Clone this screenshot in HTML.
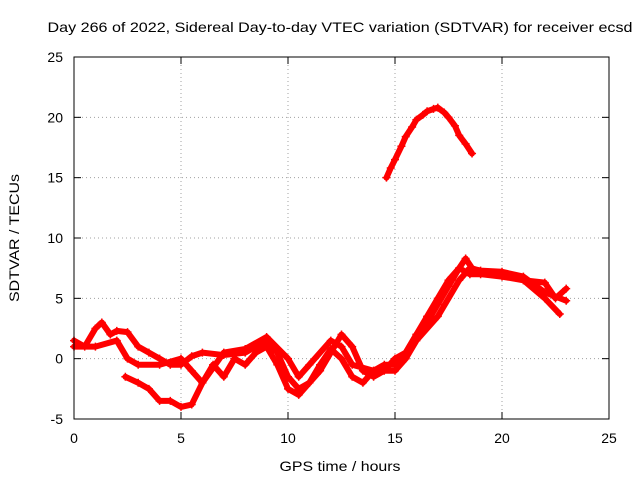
<!DOCTYPE html>
<html><head><meta charset="utf-8"><style>
body{margin:0;background:#fff;}
svg{display:block;font-family:"Liberation Sans",sans-serif;font-size:14px;}
</style></head><body>
<svg id="chart" width="640" height="480">
<text x="340" y="32" text-anchor="middle" textLength="585" lengthAdjust="spacingAndGlyphs">Day 266 of 2022, Sidereal Day-to-day VTEC variation (SDTVAR) for receiver ecsd</text>
<text x="340" y="471" text-anchor="middle" textLength="121" lengthAdjust="spacingAndGlyphs">GPS time / hours</text>
<text transform="translate(19,238) rotate(-90)" text-anchor="middle" textLength="128" lengthAdjust="spacingAndGlyphs">SDTVAR / TECUs</text>
<g id="grid"></g><g id="ticks"></g><g id="series"></g>
<rect x="74" y="57" width="535" height="362" fill="none" stroke="#000" stroke-width="1"/>
</svg>
<script>
const xTicks=[0,5,10,15,20,25];
const yTicks=[-5,0,5,10,15,20,25];
const arcX=[14.6,14.8,15,15.3,15.5,15.8,16,16.3,16.5,16.8,17,17.3,17.5,17.8,18,18.3,18.6];
const arcY=[15,15.8,16.5,17.6,18.4,19.2,19.8,20.2,20.5,20.7,20.8,20.4,20,19.3,18.5,17.8,17];
const t1X=[0,0.5,1,1.3,1.7,2,2.5,3,3.5,4,4.5,5,5.5,6,7,8,9,9.5,10,10.5,11,11.5,12,12.5,13,13.5,14,14.5,15,15.5,16,16.5,17,17.5,18,18.3,18.6,19,20,21,22,22.5,23];
const t1Y=[1.5,1,2.5,3,2,2.3,2.2,1,0.5,0,-0.5,-0.5,0.2,0.5,0.3,0.5,1.5,0.5,-1.5,-2.5,-2,-1,0.5,2,1,-1,-1.5,-1,0,0.5,2,3.5,5,6.5,7.5,8.3,7.5,7.2,7,6.5,6.3,5,5.8];
const t2X=[2.4,3,3.5,4,4.5,5,5.5,6,6.5,7,7.5,8,8.5,9,9.5,10,10.5,11,11.5,12,12.5,13,13.5,14,14.5,15,15.5,16,16.5,17,17.5,18,18.5,19,20,21,22,22.7];
const t2Y=[-1.5,-2,-2.5,-3.5,-3.5,-4,-3.8,-2,-0.5,-1.5,0,-0.5,0.5,1,-0.5,-2.5,-3,-2,-0.5,0.8,0,-1.5,-2,-1,-0.5,-0.5,0.5,2,3,4.5,6,7.5,7,7,6.8,6.5,5,3.7];
const t3X=[0,1,2,2.5,3,4,5,5.5,6,7,8,9,10,10.5,11,12,12.5,13,14,15,15.5,16,17,18,18.5,19,20,21,22,23];
const t3Y=[1,1,1.5,0,-0.5,-0.5,0,-1,-2,0.5,0.8,1.8,0,-1.5,-0.5,1.5,1,-0.5,-1,-1,0,1.5,3.5,6.5,7.5,7.3,7.2,6.8,5.5,4.8];
const NS="http://www.w3.org/2000/svg";
const sx=v=>74+v*(535/25), sy=v=>419-(v+5)*(362/30);
const grid=document.getElementById('grid'),ticks=document.getElementById('ticks'),ser=document.getElementById('series');
function mk(tag,attrs,parent){const e=document.createElementNS(NS,tag);for(const k in attrs)e.setAttribute(k,attrs[k]);parent.appendChild(e);return e;}
xTicks.forEach(v=>{
 if(v>0&&v<25){const g=mk('line',{x1:sx(v),x2:sx(v),y1:57,y2:419,stroke:'#a0a0a0','stroke-dasharray':'1,3'},grid);
 
 }
 const t=mk('text',{x:sx(v),y:443,'text-anchor':'middle'},ticks);t.textContent=v;
 
 
 mk('line',{x1:sx(v),x2:sx(v),y1:419,y2:412,stroke:'#000'},ticks);
 mk('line',{x1:sx(v),x2:sx(v),y1:57,y2:64,stroke:'#000'},ticks);
});
yTicks.forEach(v=>{
 if(v>-5&&v<25){const g=mk('line',{x1:74,x2:609,y1:sy(v),y2:sy(v),stroke:'#a0a0a0','stroke-dasharray':'1,3'},grid);
 
 }
 const t=mk('text',{x:63,y:sy(v)+5,'text-anchor':'end'},ticks);t.textContent=v;
 
 
 mk('line',{x1:74,x2:81,y1:sy(v),y2:sy(v),stroke:'#000'},ticks);
 mk('line',{x1:609,x2:602,y1:sy(v),y2:sy(v),stroke:'#000'},ticks);
});
[[arcX,arcY,'series-arc'],[t1X,t1Y,'series-track-1'],[t2X,t2Y,'series-track-2'],[t3X,t3Y,'series-track-3']].forEach(([xs,ys,name])=>{
 const g=mk('g',{},ser);
 
 
 mk('polyline',{points:xs.map((x,i)=>sx(x)+','+sy(ys[i])).join(' '),fill:'none',stroke:'#ff0000','stroke-width':6,'stroke-linejoin':'round','stroke-linecap':'round'},g);
 xs.forEach((x,i)=>{const X=sx(x),Y=sy(ys[i]);
  const p=mk('path',{d:`M${X-4},${Y}H${X+4}M${X},${Y-4}V${Y+4}`,stroke:'#ff0000','stroke-width':1.5},g);
  
  });
});
</script>
</body></html>
